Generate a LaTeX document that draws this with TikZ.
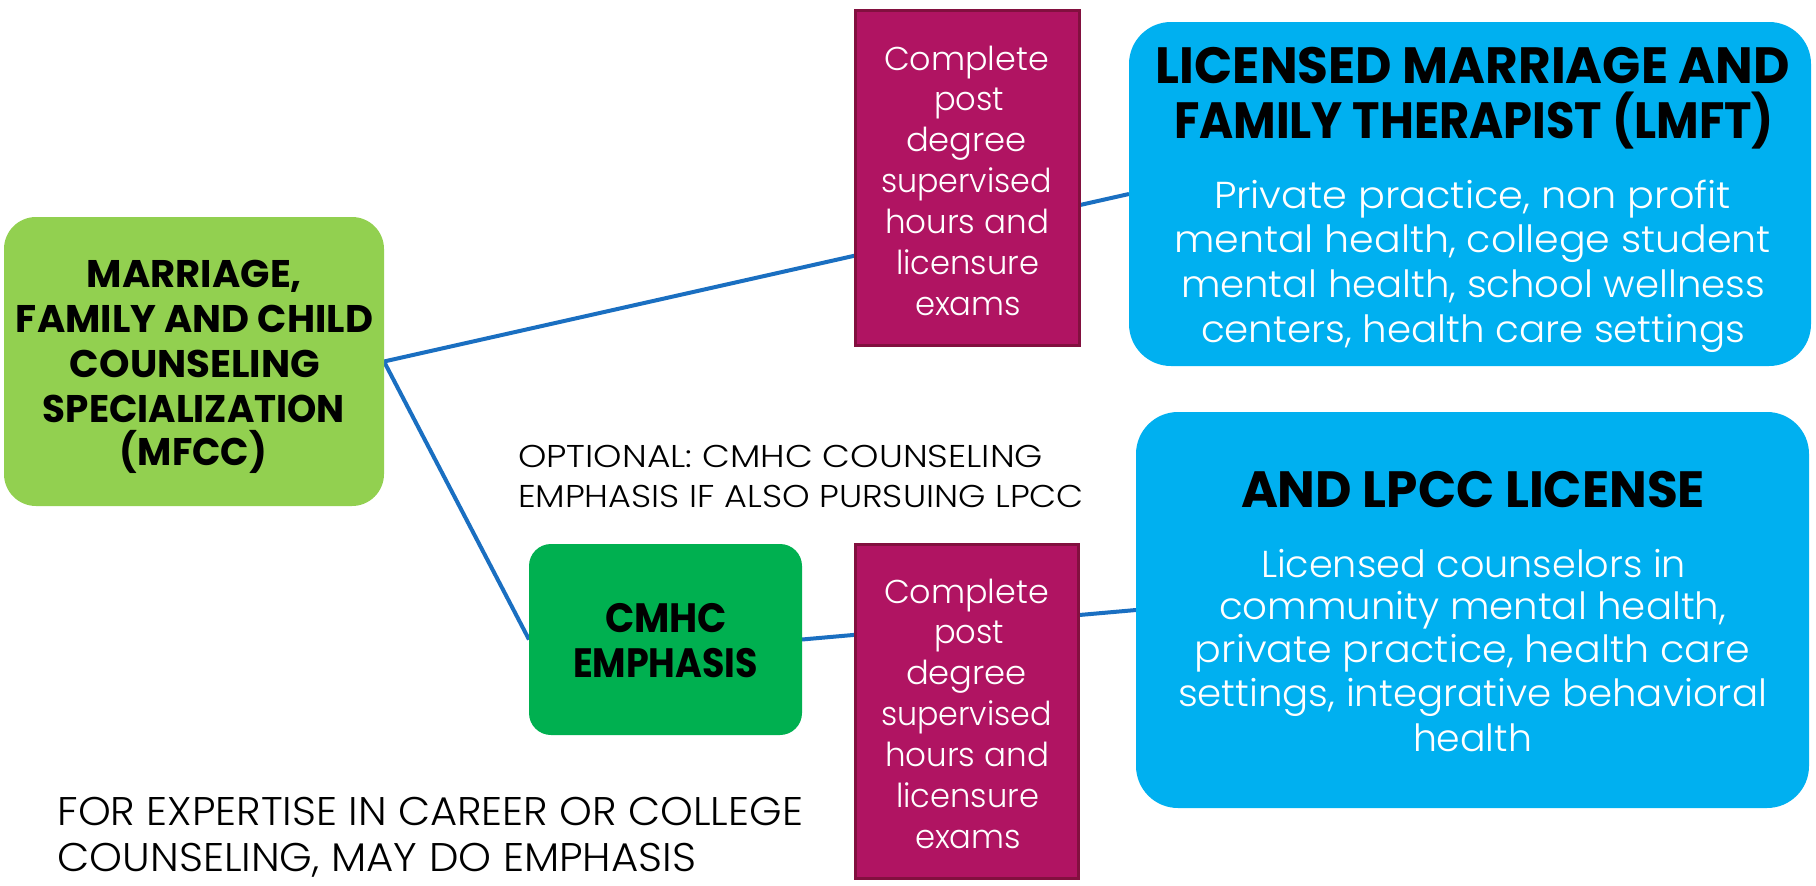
\documentclass[tikz,border=0pt]{standalone}
\usepackage{fontspec}
\usepackage{graphicx}
\usetikzlibrary{backgrounds}
\setmainfont{Poppins}
\IfFontExistsTF{Poppins Light}{\newfontfamily\lightf{Poppins Light}}{\newfontfamily\lightf{Poppins}}
\definecolor{lgreen}{HTML}{92D050}
\definecolor{dgreen}{HTML}{00B050}
\definecolor{pfill}{HTML}{B01462}
\definecolor{pedge}{HTML}{82103F}
\definecolor{lblue}{HTML}{00B0F0}
\definecolor{conn}{HTML}{1A6FC1}
\newcommand\fitto[2]{\resizebox{#1pt}{\height}{#2}}
\tikzset{
  boxbase/.style={inner sep=0pt, outer sep=0pt, draw=none},
  greenbox/.style={boxbase, fill=lgreen, rounded corners=32pt},
  cmhcbox/.style={boxbase, fill=dgreen, rounded corners=22pt},
  bluebox/.style={boxbase, fill=lblue, rounded corners=42pt},
  purplebox/.style={inner sep=0pt, outer sep=0pt, fill=pfill, draw=pedge, line width=3pt},
  connector/.style={draw=conn, line width=4pt},
  tl/.style={anchor=base, inner sep=0pt, outer sep=0pt},
  tlw/.style={anchor=base west, inner sep=0pt, outer sep=0pt},
  fgreen/.style={font=\bfseries\fontsize{38.5}{40}\selectfont, text=black},
  fpurple/.style={font=\lightf\fontsize{33}{35}\selectfont, text=white},
  fhead/.style={font=\bfseries\fontsize{51}{53}\selectfont, text=black},
  fbody/.style={font=\lightf\fontsize{37.5}{39}\selectfont, text=white},
  fcmhc/.style={font=\bfseries\fontsize{41}{43}\selectfont, text=black},
  fnote/.style={font=\lightf\fontsize{31.5}{33}\selectfont, text=black},
  fnoteb/.style={font=\lightf\fontsize{40}{42}\selectfont, text=black},
}
\begin{document}
\begin{tikzpicture}[x=1pt, y=-1pt]
\useasboundingbox (0,0) rectangle (1816,886);

% boxes
\node[greenbox, minimum width=380pt, minimum height=289pt] (mfcc) at (194,361.5) {};
\node[bluebox, minimum width=682pt, minimum height=344pt] (lmft) at (1470,194) {};
\node[purplebox, minimum width=224pt, minimum height=335pt] (ptop) at (967.5,178) {};
\node[cmhcbox, minimum width=273pt, minimum height=191pt] (cmhc) at (665.5,639.5) {};
\node[purplebox, minimum width=223pt, minimum height=334pt] (pbot) at (967,711.5) {};
\node[bluebox, minimum width=673pt, minimum height=396pt] (lpcc) at (1472.5,610) {};

% white page and connectors (behind the boxes)
\begin{pgfonlayer}{background}
\fill[white] (0,0) rectangle (1816,886);
\draw[connector] (mfcc.east) -- (lmft.west);
\draw[connector] (mfcc.east) -- (cmhc.west);
\draw[connector] (cmhc.east) -- (lpcc.west);
\end{pgfonlayer}

% green box text
\node[tl, fgreen] (g1) at (194.5,287) {\fitto{215}{MARRIAGE,}};
\node[tl, fgreen] (g2) at (194.5,332) {\fitto{357}{FAMILY AND CHILD}};
\node[tl, fgreen] (g3) at (195,377) {\fitto{250}{COUNSELING}};
\node[tl, fgreen] (g4) at (194,422) {\fitto{302}{SPECIALIZATION}};
\node[tl, fgreen] (g5) at (193.5,465) {\fitto{147}{(MFCC)}};

% top purple text
\node[tl, fpurple] (pt1) at (966.5,70) {\fitto{165}{Complete}};
\node[tl, fpurple] (pt2) at (969,110) {\fitto{70}{post}};
\node[tl, fpurple] (pt3) at (966.5,151) {\fitto{121}{degree}};
\node[tl, fpurple] (pt4) at (966.5,192) {\fitto{171}{supervised}};
\node[tl, fpurple] (pt5) at (967,233) {\fitto{164}{hours and}};
\node[tl, fpurple] (pt6) at (967.5,274) {\fitto{143}{licensure}};
\node[tl, fpurple] (pt7) at (968,315) {\fitto{106}{exams}};

% bottom purple text
\node[tl, fpurple] (pb1) at (966.5,603) {\fitto{165}{Complete}};
\node[tl, fpurple] (pb2) at (969,643) {\fitto{70}{post}};
\node[tl, fpurple] (pb3) at (966.5,684) {\fitto{121}{degree}};
\node[tl, fpurple] (pb4) at (966.5,725) {\fitto{171}{supervised}};
\node[tl, fpurple] (pb5) at (967,766) {\fitto{164}{hours and}};
\node[tl, fpurple] (pb6) at (967.5,807) {\fitto{143}{licensure}};
\node[tl, fpurple] (pb7) at (968,848) {\fitto{106}{exams}};

% top blue text
\node[tl, fhead] (h1) at (1473,83) {\fitto{634}{LICENSED MARRIAGE AND}};
\node[tl, fhead] (h2) at (1474,138) {\fitto{600}{FAMILY THERAPIST (LMFT)}};
\node[tl, fbody] (b1) at (1472.5,208) {\fitto{517}{Private practice, non profit}};
\node[tl, fbody] (b2) at (1472.5,252) {\fitto{597}{mental health, college student}};
\node[tl, fbody] (b3) at (1473,297) {\fitto{584}{mental health, school wellness}};
\node[tl, fbody] (b4) at (1473,342) {\fitto{544}{centers, health care settings}};

% bottom blue text
\node[tl, fhead] (h3) at (1473,507) {\fitto{464}{AND LPCC LICENSE}};
\node[tl, fbody] (c1) at (1473.5,577) {\fitto{425}{Licensed counselors in}};
\node[tl, fbody] (c2) at (1472.5,619) {\fitto{507}{community mental health,}};
\node[tl, fbody] (c3) at (1472.5,662) {\fitto{555}{private practice, health care}};
\node[tl, fbody] (c4) at (1472.5,706) {\fitto{589}{settings, integrative behavioral}};
\node[tl, fbody] (c5) at (1472.5,751) {\fitto{119}{health}};

% CMHC box text
\node[tl, fcmhc] (m1) at (666,632) {\fitto{122}{CMHC}};
\node[tl, fcmhc] (m2) at (665.5,677) {\fitto{185}{EMPHASIS}};

% free notes
\node[tlw, fnote] (o1) at (518,467) {\fitto{525}{OPTIONAL: CMHC COUNSELING}};
\node[tlw, fnote] (o2) at (518,507) {\fitto{566}{EMPHASIS IF ALSO PURSUING LPCC}};
\node[tlw, fnoteb] (f1) at (57.5,825) {\fitto{745.5}{FOR EXPERTISE IN CAREER OR COLLEGE}};
\node[tlw, fnoteb] (f2) at (57.5,871) {\fitto{638.5}{COUNSELING, MAY DO EMPHASIS}};
\end{tikzpicture}
\end{document}
